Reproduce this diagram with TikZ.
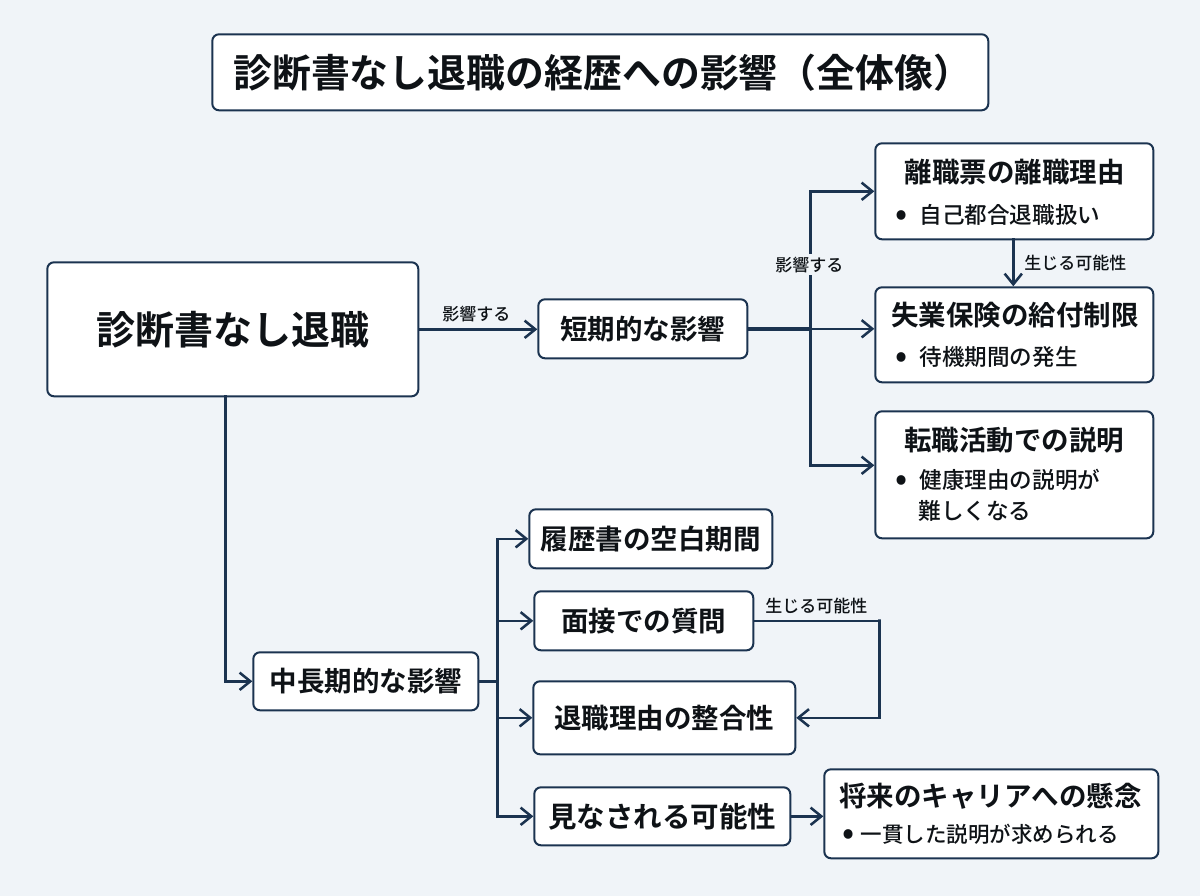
\documentclass[tikz,border=0pt]{standalone}
\usepackage{fontspec}
\usetikzlibrary{arrows.meta,calc,positioning}
\setmainfont{Noto Sans CJK JP}[BoldFont={Noto Sans CJK JP Bold}]
\newfontfamily\jpb{Noto Sans CJK JP Bold}
\newfontfamily\jpm{Noto Sans CJK JP Medium}
\definecolor{bgc}{HTML}{F0F4F8}
\definecolor{linec}{HTML}{1B3350}
\definecolor{inkc}{HTML}{0E1216}
\newlength{\pxu}\setlength{\pxu}{0.75pt}
\newcommand{\fs}[1]{\fontsize{#1\pxu}{#1\pxu}\selectfont}
\newcommand{\bult}{\makebox[24\pxu][l]{\raisebox{-2\pxu}{\fs{34}•}}}
\tikzset{
  x=0.75pt,y=-0.75pt,
  boxn/.style={draw=linec,line width=1.5pt,fill=white,rounded corners=5pt,inner sep=0pt,text=inkc},
  head/.style={text=inkc,inner sep=0pt,font=\jpb\fs{27.5}},
  bul/.style={text=inkc,inner sep=0pt,anchor=west,font=\jpm\fs{22.6}},
  lab/.style={text=inkc,inner sep=0pt,font=\jpm\fs{17}},
  conn/.style={draw=linec,line width=1.9pt},
  arr/.style={conn,-{Straight Barb[length=8pt,width=13pt,line width=1.9pt]}},
}
\newcommand{\bx}[6]{\node[boxn,minimum width=#4*0.75pt-#2*0.75pt,minimum height=#5*0.75pt-#3*0.75pt,anchor=north west,#6] (#1) at (#2,#3)}
\begin{document}
\begin{tikzpicture}
\useasboundingbox (0.7,0.7) rectangle (1200.7,896.7);
\fill[bgc] (0,0) rectangle (1201,897);

\bx{title}{212}{34}{988}{110}{font=\jpb\fs{38.9}} {\hspace*{5\pxu}診断書なし退職の経歴への影響（全体像）};
\bx{main}{47}{262}{418}{396}{font=\jpb\fs{39}} {診断書なし退職};
\bx{tanki}{538}{299}{747}{358}{font=\jpb\fs{27.5}} {短期的な影響};
\bx{chuki}{253}{652}{478}{710}{font=\jpb\fs{27.5}} {中長期的な影響};

\bx{riyu}{875}{143}{1153}{239}{} {};
\node[head] (riyuT) at (1015.5,173) {離職票の離職理由};
\node[bul] (riyuB) at (896,215.5) {\bult 自己都合退職扱い};

\bx{shitsu}{875}{287}{1153}{382}{} {};
\node[head] (shitsuT) at (1015.5,316) {失業保険の給付制限};
\node[bul] (shitsuB) at (896,358) {\bult 待機期間の発生};

\bx{tenshoku}{875}{411}{1153}{538}{} {};
\node[head] (tenshokuT) at (1015,441) {転職活動での説明};
\node[bul] (tenshokuB) at (896,481) {\bult 健康理由の説明が};
\node[bul] (tenshokuC) at (919,512) {難しくなる};

\bx{rireki}{529}{509}{772}{568}{font=\jpb\fs{27.5}} {履歴書の空白期間};
\bx{mensetsu}{534}{591}{753}{650}{font=\jpb\fs{27.5}} {面接での質問};
\bx{seigo}{533}{681}{795}{754}{font=\jpb\fs{27.5}} {退職理由の整合性};
\bx{minasa}{534}{787}{790}{845}{font=\jpb\fs{28.5}} {見なされる可能性};

\bx{shorai}{824}{769}{1158}{858}{} {};
\node[head] (shoraiT) at (991,797) {将来のキャリアへの懸念};
\node[bul,font=\jpm\fs{21.5}] (shoraiB) at (843,835) {\makebox[18\pxu][l]{\raisebox{-2\pxu}{\fs{34}•}}一貫した説明が求められる};

% trunks and bends
\coordinate (downA) at (226,396);
\coordinate (trunkR) at (811,329);
\coordinate (trunkL) at (498,681);
\coordinate (toTen) at (875,466);
\coordinate (riyuS) at (1014,239);
\coordinate (bendM) at (880,620);

\draw[arr] (main.east) -- (main.east -| tanki.west);
\draw[arr] (downA) |- (chuki.west);

\draw[conn,line width=3.4pt] (tanki.east) -- (tanki.east -| trunkR);
\draw[arr] (tanki.east -| trunkR) -- (tanki.east -| shitsu.west);
\draw[arr] (trunkR) |- (riyu.west);
\draw[arr] (trunkR) |- (toTen);
\node[lab,fill=bgc,inner xsep=2pt,inner ysep=2pt] (labA) at (810,265.5) {影響する};
\node[lab] (labB) at (477,314.5) {影響する};

\draw[arr] (riyuS) -- (riyuS |- shitsu.north);
\node[lab] (labC) at (1076,263.5) {生じる可能性};

\draw[conn] (chuki.east) -- (chuki.east -| trunkL);
\draw[arr] (trunkL) |- (rireki.west);
\draw[arr] (trunkL) |- (mensetsu.west);
\draw[arr] (trunkL) |- (seigo.west);
\draw[arr] (trunkL) |- (minasa.west);

\draw[arr] (mensetsu.east) -| (bendM) |- (seigo.east);
\node[lab] (labD) at (817,607) {生じる可能性};

\draw[arr] (minasa.east) -- (minasa.east -| shorai.west);
\end{tikzpicture}
\end{document}
